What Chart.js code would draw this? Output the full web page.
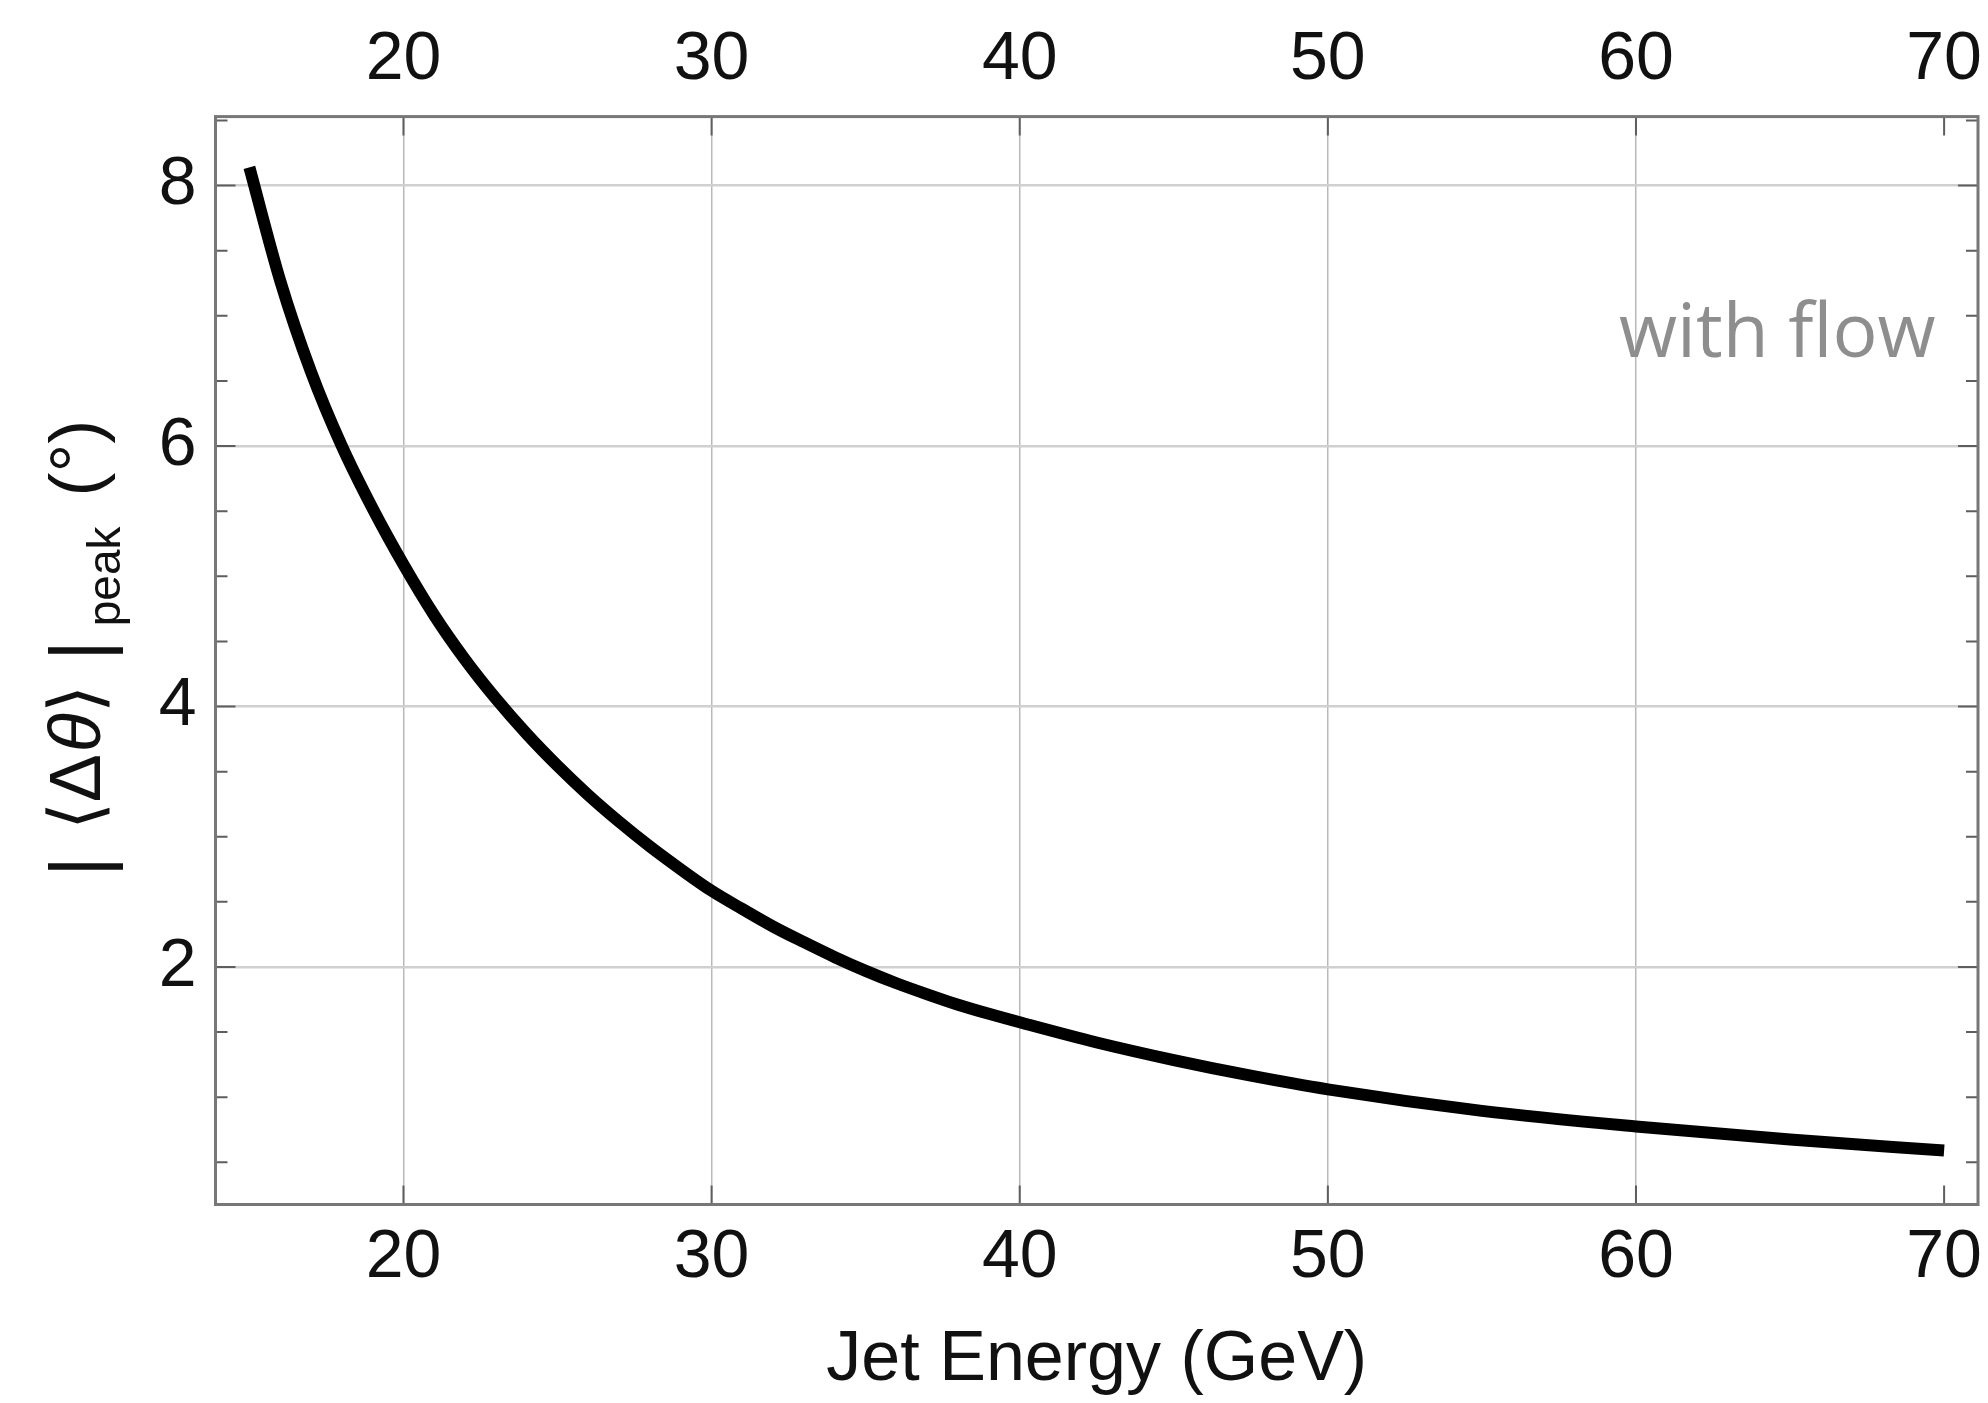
<!DOCTYPE html>
<html>
<head>
<meta charset="utf-8">
<script src="https://cdn.jsdelivr.net/npm/chart.js@4.4.1/dist/chart.umd.min.js"></script>
<style>
  html, body { margin: 0; padding: 0; background: #fff; }
  #wrap { width: 1988px; height: 1403px; }
</style>
</head>
<body>
<div id="wrap"><canvas id="myChart" width="1988" height="1403"></canvas></div>
<script>
// jet energy (GeV) and peak deflection |<dtheta>|_peak (deg)
const energy = [15, 16, 17, 18, 19, 20, 21, 22, 23, 24, 25, 26, 27, 28, 29, 30, 31, 32, 33, 34, 35, 36, 37, 38, 39, 40, 42.5, 45, 47.5, 50, 55, 60, 65, 70];
const peakAngle = [8.14, 7.27, 6.57, 6.0, 5.52, 5.09, 4.70, 4.36, 4.06, 3.79, 3.545, 3.32, 3.115, 2.925, 2.75, 2.585, 2.445, 2.31, 2.19, 2.075, 1.97, 1.875, 1.79, 1.71, 1.64, 1.575, 1.42, 1.285, 1.165, 1.06, 0.895, 0.775, 0.675, 0.59];

const xTicks = [20, 30, 40, 50, 60, 70];
const xGrid = [20, 30, 40, 50, 60];
const yTicks = [2, 4, 6, 8];
const yMinor = [0.5, 1, 1.5, 2.5, 3, 3.5, 4.5, 5, 5.5, 6.5, 7, 7.5, 8.5];

const FONT = "'Liberation Sans', Arial, sans-serif";

// frame, inward ticks, y title and the "with flow" note
const decorations = {
    id: 'decorations',
    afterDraw(chart) {
        const ctx = chart.ctx;
        const a = chart.chartArea;
        const xs = chart.scales.x, ys = chart.scales.y;
        ctx.save();
        // ticks
        ctx.strokeStyle = '#5e5e5e';
        ctx.lineWidth = 2;
        ctx.beginPath();
        xTicks.forEach(v => {
            const px = xs.getPixelForValue(v);
            ctx.moveTo(px, a.bottom); ctx.lineTo(px, a.bottom - 19);
            ctx.moveTo(px, a.top); ctx.lineTo(px, a.top + 19);
        });
        yTicks.forEach(v => {
            const py = ys.getPixelForValue(v);
            ctx.moveTo(a.left, py); ctx.lineTo(a.left + 20, py);
            ctx.moveTo(a.right, py); ctx.lineTo(a.right - 20, py);
        });
        yMinor.forEach(v => {
            const py = ys.getPixelForValue(v);
            ctx.moveTo(a.left, py); ctx.lineTo(a.left + 12, py);
            ctx.moveTo(a.right, py); ctx.lineTo(a.right - 12, py);
        });
        ctx.stroke();
        // frame
        ctx.strokeStyle = '#777';
        ctx.lineWidth = 3;
        ctx.strokeRect(a.left, a.top, a.right - a.left, a.bottom - a.top);

        // y axis title, rotated, with subscript
        const parts = [
            { t: '|', f: '80px ' + FONT, dy: 6, gap: 26 },
            { t: '\u27E8', f: '72px ' + FONT, dy: 0, gap: 0 },
            { t: '\u0394', f: '72px ' + FONT, dy: 0, gap: 2 },
            { t: '\u03B8', f: 'italic 72px ' + FONT, dy: 0, gap: 0 },
            { t: '\u27E9', f: '72px ' + FONT, dy: 0, gap: 24 },
            { t: '|', f: '80px ' + FONT, dy: 6, gap: 14 },
            { t: 'peak', f: '46px ' + FONT, dy: 20, gap: 30 },
            { t: '(\u00B0)', f: '72px ' + FONT, dy: 0, gap: 0 }
        ];
        ctx.translate(100, 877);
        ctx.rotate(-Math.PI / 2);
        ctx.fillStyle = '#111';
        ctx.textBaseline = 'alphabetic';
        ctx.textAlign = 'left';
        let cx = 0;
        parts.forEach(p => {
            ctx.font = p.f;
            ctx.fillText(p.t, cx, p.dy);
            cx += ctx.measureText(p.t).width + p.gap;
        });
        ctx.restore();

        ctx.save();
        ctx.font = "75px 'Open Sans', sans-serif";
        ctx.fillStyle = '#8e8e8e';
        ctx.textAlign = 'left';
        ctx.textBaseline = 'alphabetic';
        ctx.fillText('with flow', 1619, 357);
        ctx.restore();
    }
};

const tickFont = { family: FONT, size: 68 };
const noSidePad = s => { s.paddingLeft = 0; s.paddingRight = 0; s.paddingTop = 0; s.paddingBottom = 0; };

new Chart(document.getElementById('myChart').getContext('2d'), {
    type: 'line',
    data: {
        datasets: [{
            data: energy.map((e, i) => ({ x: e, y: peakAngle[i] })),
            borderColor: '#000',
            borderWidth: 12,
            borderCapStyle: 'butt',
            borderJoinStyle: 'round',
            pointRadius: 0,
            cubicInterpolationMode: 'monotone',
            fill: false
        }]
    },
    options: {
        responsive: false,
        animation: false,
        layout: { padding: { left: 0, right: 10, top: 0, bottom: 0 } },
        plugins: { legend: { display: false }, tooltip: { enabled: false } },
        scales: {
            x: {
                type: 'linear', position: 'bottom', min: 13.9, max: 71.1,
                afterBuildTicks: s => { s.ticks = xTicks.map(v => ({ value: v })); },
                afterFit: s => { s.height = 198.5; noSidePad(s); },
                grid: {
                    drawTicks: false,
                    color: c => xGrid.includes(c.tick.value) ? '#b9b9b9' : 'rgba(0,0,0,0)',
                    lineWidth: 1.5
                },
                border: { display: false },
                ticks: { font: tickFont, color: '#111', padding: 13, maxRotation: 0 },
                title: {
                    display: true, text: 'Jet Energy (GeV)', color: '#111',
                    font: { family: FONT, size: 70 }, padding: { top: 0, bottom: 0 }
                }
            },
            x2: {
                type: 'linear', position: 'top', min: 13.9, max: 71.1,
                afterBuildTicks: s => { s.ticks = xTicks.map(v => ({ value: v })); },
                afterFit: s => { s.height = 116.6; noSidePad(s); },
                grid: { display: false, drawTicks: false },
                border: { display: false },
                ticks: { font: tickFont, color: '#111', padding: 16, maxRotation: 0 }
            },
            y: {
                type: 'linear', position: 'left', min: 0.176, max: 8.53,
                afterBuildTicks: s => { s.ticks = yTicks.map(v => ({ value: v })); },
                afterFit: s => { s.width = 215.5; noSidePad(s); },
                grid: { drawTicks: false, color: '#d0d0d0', lineWidth: 2.5 },
                border: { display: false },
                ticks: { font: tickFont, color: '#111', padding: 19 }
            }
        }
    },
    plugins: [decorations]
});
</script>
</body>
</html>
